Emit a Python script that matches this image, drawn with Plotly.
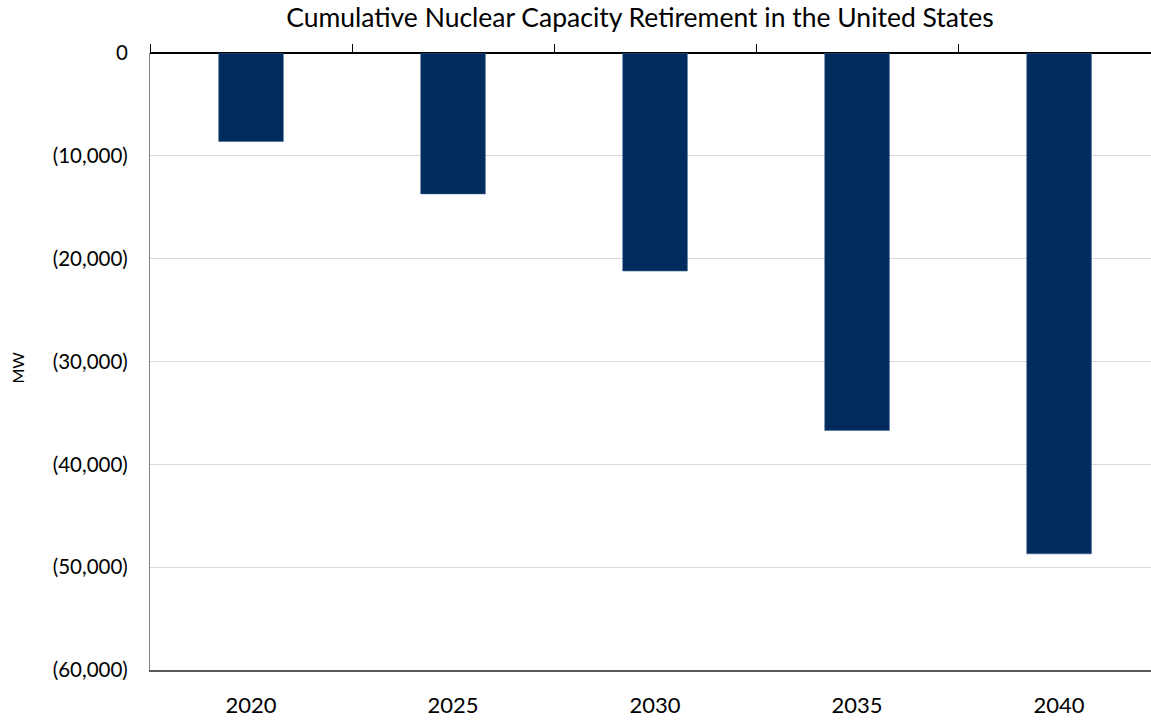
import plotly.graph_objects as go

years = ["2020", "2025", "2030", "2035", "2040"]
retired_mw = [-8600, -13700, -21200, -36700, -48700]
y_tick_vals = [0, -10000, -20000, -30000, -40000, -50000, -60000]
y_tick_text = ["0", "(10,000)", "(20,000)", "(30,000)", "(40,000)", "(50,000)", "(60,000)"]

FONT = "Lato"

fig = go.Figure()
fig.add_trace(go.Bar(
    x=years, y=retired_mw, width=0.32,
    marker=dict(color="#002B5C", line=dict(color="#3D6190", width=0.6)),
    showlegend=False,
))
# invisible trace so the top axis (boundary ticks) renders
fig.add_trace(go.Scatter(x=[0], y=[0], xaxis="x2", mode="markers",
                         marker=dict(opacity=0), showlegend=False, hoverinfo="skip"))

fig.update_layout(
    width=1151, height=721,
    margin=dict(l=150, r=0, t=53, b=51, autoexpand=False),
    plot_bgcolor="white", paper_bgcolor="white",
    font=dict(family=FONT, size=21, color="#000000"),
    title=dict(text="Cumulative Nuclear Capacity Retirement in the United States",
               xref="container", x=0.556, xanchor="center",
               yref="container", y=0.975, yanchor="middle",
               font=dict(family=FONT, size=26.5, color="#000000")),
    xaxis=dict(type="category", range=[-0.5, 4.455], showline=True, linecolor="#595959",
               linewidth=1.5, ticks="", showgrid=False, ticklabelstandoff=15,
               tickfont=dict(size=22), automargin=False),
    xaxis2=dict(overlaying="x", side="top", range=[-0.5, 4.455], showline=False,
                tickvals=[-0.5, 0.5, 1.5, 2.5, 3.5, 4.5], ticks="outside", ticklen=8,
                tickcolor="#000000", tickwidth=1.2, showticklabels=False, showgrid=False,
                zeroline=False, automargin=False),
    yaxis=dict(range=[-60000, 0], tickvals=y_tick_vals, ticktext=y_tick_text,
               showgrid=True, gridcolor="#D9D9D9", gridwidth=1,
               zeroline=True, zerolinecolor="#000000", zerolinewidth=1.5,
               showline=True, linecolor="#7F7F7F", linewidth=1.2,
               ticks="", ticklabelstandoff=17, tickfont=dict(size=20.5), automargin=False),
)
fig.add_annotation(text="MW", xref="paper", yref="paper", x=-0.132, y=0.49,
                   xanchor="center", yanchor="middle",
                   showarrow=False, textangle=-90, font=dict(size=16, family=FONT))
fig.write_html("out.html", config={"displayModeBar": False},
               post_script="document.body.style.margin='0';document.body.style.overflow='hidden';")
